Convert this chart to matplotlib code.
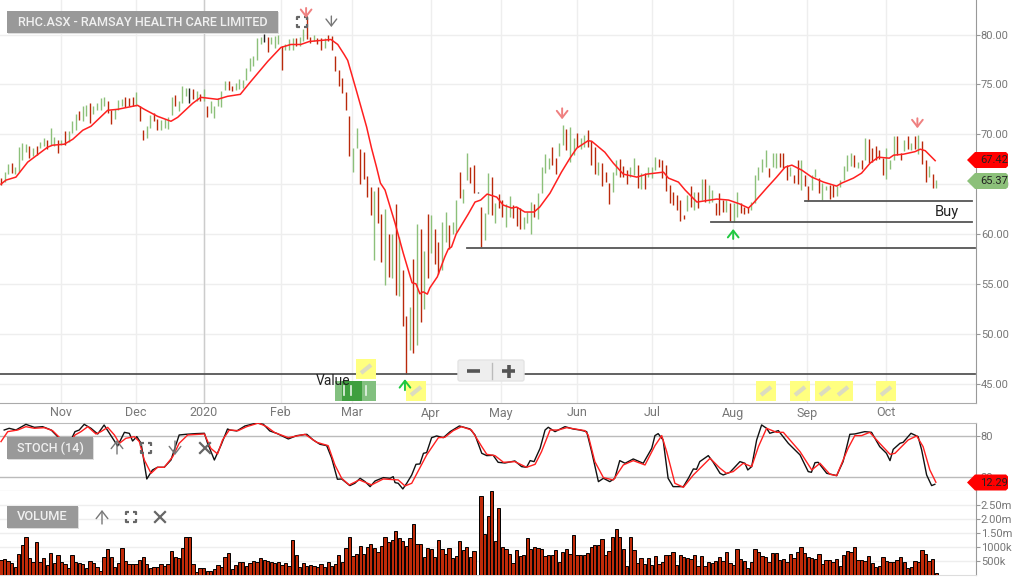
import matplotlib
matplotlib.use("Agg")
import matplotlib.pyplot as plt
from matplotlib.patches import Rectangle, Polygon, FancyBboxPatch

plt.rcParams['font.family'] = ['Roboto', 'DejaVu Sans']

# Daily bars, Oct 2019 - Oct 2020
highs = [65.6,66.2,67,67.1,66.7,68.7,69.1,69,68.8,68.6,
         68.8,69.2,69.6,69.4,70.6,69.7,69.4,69.4,70.3,70.3,
         71.3,72,72.3,72.8,72.9,73.1,72.8,73.1,73.6,73.7,
         73.3,72.4,72.5,73.4,73.5,73.7,73.6,73.7,74.2,72.8,
         70.4,70.8,71.9,72.1,71.5,71.4,71.5,71.7,73.7,73.9,
         73.3,74.8,74.6,74.6,74.5,74.3,74,74.5,72.8,73.3,
         72.8,73.6,74.3,75.3,75.3,74.8,75.1,75.5,75.4,76.6,
         77.6,77.8,79.6,79.8,80.1,79.8,79.8,79.9,80,78.8,
         79,79.5,79.6,79.6,79.7,80.6,81.8,79.8,80,79.6,
         79.6,79.6,80,79.9,77.8,76.4,75.6,74.2,71.8,68.6,
         70.6,68.5,68.2,65.8,64.7,64.3,64.7,62,62.5,60,
         60,63,59.7,56.4,51.8,52.7,57.5,61,60.5,58.3,
         62,61.9,60.5,59.2,61.2,62.2,60.9,61.2,63.4,66.2,
         64.5,68.1,66.7,66.9,64.2,62.7,62.1,66.1,65.7,63.1,
         64,63.4,63,63.8,62.9,62.7,62.6,61.7,62.2,63.2,
         63,64.1,66.7,68,67.6,68.7,67.6,69.1,70.9,70.5,
         70.7,69.6,70.1,69.6,69.9,70.4,69.3,68.7,67.2,67.1,
         66.2,65.1,66.2,67.4,67.5,66.8,66.4,66.7,67.6,66.9,
         66.1,66.1,66.7,66.7,67.7,67.5,67.4,66.9,64.9,64.2,
         63.9,63.4,61.9,63.9,64.8,64.2,64.2,65.5,65.5,64.9,
         64.4,63.1,64.1,63.4,63.4,63.1,63.1,64.2,63.1,62.7,
         62.7,63.2,65.9,66.7,67.5,68.4,66.6,68.1,68.1,68.1,
         68.1,66.9,66.7,65.9,67.4,67.4,65.9,64.8,65.9,66.5,
         65.6,65.1,64.8,64.9,64.9,64.8,65.4,66.8,67.9,68.1,
         67.9,67.2,67.4,69.6,69.5,68.6,68.8,68.4,67.6,68.6,
         67.4,69.8,69.8,68.1,69.4,69.8,69.1,69.8,69.9,69.3,
         67.4,66.8,66,65.4]
lows = [64.9,65.2,66,66.1,66,66.2,67.4,68.2,67.6,67.8,
        67.9,68.6,68.8,68.5,68.9,68.8,68.1,68.9,68.9,69.2,
        70.1,70.4,71.4,71.3,71.8,71.1,72,72.4,72.4,72.8,
        72.1,71,71.5,72.4,72.8,72.7,72.8,72.8,72.8,71.3,
        69.4,69.6,70.6,71.3,70.4,70.4,70.6,70.5,71.9,72.8,
        72.3,73.1,73.8,73.1,73.5,73.3,73.3,73.3,71.7,72.1,
        71.6,72.8,72.7,74.4,74.4,74.3,74.4,74.5,74.6,75.4,
        76.3,76.8,77.4,79,79.2,78.2,79,78.6,79,76.4,
        78.4,78.4,78.4,78.8,78.8,79.3,79.5,79.1,79.3,79,
        78.4,78.6,79.3,78.4,76.3,74.8,74.1,72.4,67.8,66.2,
        68.6,65,65.5,63.7,61.9,57.4,61.1,57.2,54.9,55.7,
        55.6,53.9,53.8,50.8,46,48.4,48.1,48.9,51.2,52.5,
        55.6,58.1,57,56,56.4,59.2,58.5,60,60.2,63.6,
        63.1,65.4,65.1,64.1,64.1,58.7,59.4,62,61.9,61.1,
        62.6,61.7,60.7,61.7,61.6,60.8,60.5,60.5,61.1,60,
        61.7,61.5,64.1,66.1,66.5,66.9,66,67.8,68.9,68.4,
        67.2,67.9,68.7,68.5,68.7,68.7,66.9,66,65.9,64.8,
        65.2,63,64.2,65.9,65.7,65.7,65,65.7,65.9,64.6,
        64.5,64.5,65.7,65.6,66.4,66.7,65.6,64.3,63.1,62.9,
        62.4,61.3,61.5,62.3,62.7,62.4,62.6,63.4,63.2,63.1,
        63.2,61.9,61.9,62.2,62.2,61.3,61.2,61.7,62.1,62,
        62.1,62.4,63.1,65.4,66.2,66.7,65.7,66.7,66.6,66.7,
        66.6,65.4,65.8,65.1,65,64.4,64.8,63.3,64.4,65.7,
        64.1,63.4,64.4,63.5,63.7,63.8,64.7,65.4,66.3,66.8,
        66.7,66.6,66.5,67.4,67.1,67.2,67.4,67.5,65.9,65.5,
        66.5,67.4,67.9,67.4,68.3,68.5,68.4,68.5,68,67,
        65.2,65.7,64.6,64.6]
bar_colors = ("rggrggggrg" "rggrggrgrg" "ggrggrgggg" "rrgggrrrgr" "rggrrggggr"
              "gggkrgrgrg" "ggggrrgggg" "ggggkrgggr" "gggrggrrgr" "rgrrrrrrrg"
              "grrrrgrrgr" "grgrrgrgrg" "rgrrggrggr" "ggrrkrggrg" "rrggrrrggg"
              "rggggrrggr" "ggrggrrrgr" "rrggrrrggr" "grgggrrrrr" "rrrgrgrgrg"
              "grrrgrggrr" "rgggggrggr" "rrgrrgrrgg" "rggrrggggg" "rgrgrrrrrg"
              "ggrrgrgrgr" "rgrg")

ma_x = [0,1.4,4.2,7.5,13.1,14.5,17.8,20.2,23,25.3,30,32.8,38.4,40.3,44,47.8,49.7,53.9,56.2,60.9,
        63.7,67.3,69.8,75,78.7,81.5,84.3,86.7,92.8,94.7,96.5,97.5,100,102.8,104.2,105.6,106.7,108,110.8,113.1,
        115.6,116.7,117.8,118.7,119.9,120.6,122.7,124.8,125.8,126.7,128,131.4,133.3,134.9,136.7,139.4,141.2,143.6,145,147.3,
        149.9,151.5,154.4,157.6,160,161.9,165.1,166.1,169.8,172.2,175,178.8,181.6,186.3,187.7,190.5,192.4,195.7,201.3,204.6,
        207.8,210.2,211.6,215.3,218.1,220.5,222.4,225.2,228,231.3,235,236.4,239.7,242,244.4,246.7,249.8,251,253.8,257,
        258.5,259.9,262.7]
ma_y = [65,65.4,65.7,67.2,68.7,68.9,69,69.5,70.4,70.8,72.4,72.5,72.9,72.5,71.8,71.3,71.7,73.1,73.7,73.5,
        73.8,74,75.1,77.3,78.7,79,79,79.3,79.5,79,78,77.4,74.3,70.75,68.6,66.7,65.1,64.4,61.1,58.1,
        55.1,55,54,54.2,53.97,54.6,55.7,57.7,58.5,58.7,60,62,63.2,63.4,64,63.7,62.9,62.6,62.7,62.2,
        62.2,62.7,64.1,66.2,67.6,68.6,69.35,69.3,68.2,67.1,66,65.7,66,66.2,65.6,65.2,64.4,63.2,63.5,63.4,
        63,62.6,63.1,64.6,65.7,66.7,66.9,66.4,65.7,65.2,64.8,65.1,65.6,66.1,67.1,67.7,67.6,67.9,68,68.25,
        68.5,68.35,67.35]

# support / resistance levels drawn on the chart: (price, first bar, last bar)
level_prices = [46, 58.6, 61.15, 63.3]
level_start = [-1, 131, 199.7, 226]
level_end = [274, 274, 273, 273]

volume_k = [540,560,510,420,300,740,1070,1340,620,480,
            1170,480,620,360,770,420,700,480,380,240,
            700,460,420,380,240,500,420,300,150,650,
            920,630,300,420,950,510,380,380,380,540,
            630,380,260,300,300,380,320,390,870,650,
            600,950,1370,1370,380,120,240,240,155,155,
            200,345,275,655,775,200,345,450,450,310,
            420,490,450,600,520,490,450,420,450,345,
            420,310,1240,700,275,420,310,345,310,275,
            380,275,450,310,380,700,450,950,1345,665,
            740,1025,740,990,1095,950,810,1025,1345,1165,
            1240,1560,1310,1225,1025,1310,1810,1095,1095,630,
            950,915,630,1240,915,740,950,600,665,1200,
            880,990,630,845,0,2810,1450,2095,2990,1200,
            2380,990,915,740,415,880,665,700,1310,915,
            990,950,915,665,700,700,880,450,810,915,
            740,1415,700,700,700,775,990,1060,1060,1275,
            700,845,1345,1630,1345,915,310,1345,880,415,
            595,380,595,345,665,380,450,700,700,810,
            345,700,630,595,560,700,310,665,310,450,
            415,490,630,490,810,415,345,915,560,490,
            240,450,915,810,665,630,450,775,775,525,
            560,450,740,595,810,990,775,655,595,570,
            740,395,535,535,450,570,310,715,855,835,
            990,525,525,500,680,415,275,320,630,490,
            475,475,525,630,450,240,275,490,450,880,
            740,490,560,85]

stoch_k_x = [0.9,2.3,4.2,7,9.4,11.7,14.1,16.4,17.3,19.2,20.8,22,23.4,25.3,27.2,29,30.5,32.8,34.7,36.1,
             37,38.2,39.4,41,42.6,44,45.9,47.8,50.1,52,54.8,57.2,58.1,60,61.9,63.7,64.4,66.3,68.6,71.9,
             73.8,75.6,77.5,80.8,83.1,86,87.8,89.7,91.6,93,94.6,95.8,98.1,99.5,101,102.4,103.8,105.2,107.5,109.4,
             110.3,110.8,111.7,113,114.1,115.5,116.7,117.8,118.8,119.7,121.1,122.5,124.4,126.3,128.9,131.9,133.3,135.2,136.6,138.4,
             139.8,141.7,144.5,146.4,147.8,148.8,149.9,151.6,153,153.9,155.8,158.6,160.9,162.8,164.7,166.1,168,169.4,171.2,172.6,
             174,175.5,177.8,180.6,183,183.9,184.8,186.2,187.6,189,191.9,193.3,194.7,195.6,196.5,198.9,200.3,202.2,203.1,205,
             207.8,209.2,210,211.1,212.5,213.9,215.3,216.2,218.6,221.4,224.7,227,227.9,228.9,229.8,232.2,235,236.8,238.7,240.1,
             242.9,244.8,247.1,249,250,250.9,252.8,253.7,255.9,257.9,258.9,260.3,261.7,262.6]
stoch_k_y = [89.3,91.8,89.3,97.6,93.2,94.2,89.3,77.1,69.8,69.8,86.9,89.3,97.6,91.8,83.5,96.6,84.4,65.9,85.9,84.4,
             73.2,79.6,69.8,17.6,30.8,34.7,34.7,45.4,82,83,84,84.5,69.8,45.4,67.4,90.8,89.3,87.9,95.2,99.5,
             97.6,87.9,84.5,76.2,81,83,74.7,68.4,66.4,47.9,17.2,17.6,7.9,11.3,18.6,13.7,6.4,14.7,19.6,18.6,
             21,12.3,11.3,3,11.3,23.5,39.1,39.6,55.2,56.2,78.1,80.6,78.1,86.9,95.2,90.8,82,55.2,51.8,52.3,
             42,41,44,35.7,34.7,44.5,43,62.5,89.3,93.3,86.9,94.2,90.8,89.3,86.9,57.6,13.7,18.6,13.7,18.6,
             44.5,40.6,46.9,40.6,62.5,81.1,84,74.7,18.6,6.4,6.4,18.6,32.3,31.8,43,51.8,42,25.9,23.5,27.4,
             43,40.6,30.8,35.7,74.7,96.7,91.8,84.5,88.4,69.8,52.8,28.4,27.4,41.5,42,25.9,22.5,43,83,83.5,
             86.9,85.9,65,55.2,44.5,61,69.8,71.3,84.5,79.6,60.1,23.5,7.9,9.8]
stoch_d_x = [0,1.9,4.7,7,9.4,12.2,14.5,16.4,17.3,19.2,20.8,22.5,24.4,26.7,28.1,30,31.9,33.3,35.1,37.5,
             38.9,40.3,42.2,44,45.9,48.3,50.1,52.5,57.2,59,60.9,62.3,64.2,66.7,69.1,72.4,74.7,77,80.8,85.5,
             88.8,92,93.9,95.8,97.9,100.8,104.2,107.5,111.7,113.6,115.5,119.7,123,124.8,127.2,129.5,132.3,135.2,136.6,138.9,
             141.3,144.5,147.8,150.2,152,154.4,156.7,159.1,164.2,165.1,167,169.4,172.2,175,177.8,181.1,183.9,185.8,187.2,189.5,
             191.9,194.7,199.4,202.2,204,205.9,208.7,211.1,213,215.3,218.1,220,224.7,228,230.3,233.1,235,238.2,240.1,242,
             244.3,247.1,250,251.4,255.1,257.5,259.3,261.2,262.9]
stoch_d_y = [72.3,86.9,89.3,94.2,91.8,92.7,88.4,78.6,69.8,69.8,82,86.9,94.2,83.5,86.9,93.2,82,69.8,77.1,79.6,
             72.3,45.4,25.9,34.7,34.7,50.3,69.8,82,83.5,62.5,54.2,74.7,89.3,88.4,94.2,99.5,94.2,85.4,78.1,83,
             71.3,66.4,38.1,18.6,8.9,16.2,8.9,17.6,16.2,7.4,11.3,52.8,78.1,78.6,88.4,94.2,89.3,65,53.7,51.8,
             42,43,34.7,39.1,57.6,89.3,89.3,92.8,88.4,82,43,19.6,16.2,38.1,44.5,38.1,66.4,81.1,57.6,11.3,
             5.4,23.5,47.9,33.3,25.9,28.4,40.6,35.7,65,91.8,85.9,85.9,57.6,30.8,40.6,24.5,22.5,62.5,81.1,81.1,
             85.9,69.8,53.7,55.2,74.7,80.6,65,30.8,12.8]

# axis labels
month_labels = ["Nov","Dec","2020","Feb","Mar","Apr","May","Jun","Jul","Aug","Sep","Oct"]
month_pos = [16.9,38,57.1,78.7,98.7,120.9,140.6,162,183,205.9,226.7,248.9]
price_ticks = [45,50,55,60,65,70,75,80]
stoch_ticks = [20,80]
volume_ticks = [500,1000,1500,2000,2500]
volume_tick_labels = ["500k","1000k","1.50m","2.00m","2.50m"]

GREEN = "#8cc07a"
RED = "#b9290b"
GREY = "#777777"
colors = {"g": GREEN, "r": RED, "k": "#222222"}
W, H = 1016, 582


def make_axes(top, bottom, ymin, ymax):
    ax = fig.add_axes([0, 1 - bottom / H, 975.5 / W, (bottom - top) / H])
    ax.set_xlim(-0.28, 274.04)
    ax.set_ylim(ymin, ymax)
    ax.set_xticks(month_pos)
    ax.set_xticklabels([])
    ax.tick_params(axis="x", length=0)
    ax.yaxis.tick_right()
    ax.tick_params(axis="y", length=3, color="#999999", labelcolor=GREY, labelsize=8, pad=0.8)
    for s in ["left", "top"]:
        ax.spines[s].set_visible(False)
    ax.spines["right"].set_color("#999999")
    ax.spines["bottom"].set_color("#aaaaaa")
    ax.set_axisbelow(True)
    return ax


fig = plt.figure(figsize=(W / 100, H / 100), dpi=100, facecolor="white")

# price panel
ax = make_axes(0, 403, 43.05, 83.46)
ax.set_yticks(price_ticks)
ax.set_yticklabels([f"{t:.2f}" for t in price_ticks])
ax.grid(True, color="#eeeeee", lw=1)
ax.axvline(month_pos[2], color="#cccccc", lw=1, zorder=1)
bar_x = list(range(len(highs)))
ax.vlines(bar_x, lows, highs, colors=[colors[c] for c in bar_colors], lw=1.0, zorder=2)
ax.plot(ma_x, ma_y, color="#ff2020", lw=1.1, zorder=3)
for p, a, b in zip(level_prices, level_start, level_end):
    ax.plot([a, b], [p, p], color="#555555", lw=1.3, zorder=4)

# stochastic panel
ax2 = make_axes(422.7, 491, 0, 100)
ax2.set_yticks(stoch_ticks)
ax2.grid(True, axis="y", color="#bbbbbb", lw=1)
ax2.spines["top"].set_visible(True)
ax2.spines["top"].set_color("#bbbbbb")
ax2.plot(stoch_k_x, stoch_k_y, color="#111111", lw=1.0, zorder=3)
ax2.plot(stoch_d_x, stoch_d_y, color="#ff2020", lw=1.0, zorder=4)

# volume panel
ax3 = make_axes(491, 575, 0, 3000)
ax3.set_yticks(volume_ticks)
ax3.set_yticklabels(volume_tick_labels)
ax3.grid(True, axis="y", color="#eeeeee", lw=1)
ax3.spines["bottom"].set_color("#dddddd")
ax3.bar(bar_x, volume_k, width=0.92, color="#c02a08", edgecolor="black", lw=0.7, zorder=3)

# everything below is page furniture placed in pixels
ov = fig.add_axes([0, 0, 1, 1], zorder=10)
ov.set_xlim(0, W)
ov.set_ylim(H, 0)
ov.axis("off")
ov.patch.set_alpha(0)

for lab, pos in zip(month_labels, month_pos):
    ov.text(1 + 3.556 * pos, 413, lab, ha="center", va="center", fontsize=9, color=GREY)


def label_box(x0, y0, x1, y1, text, size=9.5):
    ov.add_patch(Rectangle((x0 + 1, y0 + 1), x1 - x0, y1 - y0, color="#dddddd", lw=0))
    ov.add_patch(Rectangle((x0, y0), x1 - x0, y1 - y0, color="#999999", lw=0))
    ov.text((x0 + x1) / 2, (y0 + y1) / 2, text, ha="center", va="center", color="#f0f0f0",
            fontsize=size, fontweight="medium")


label_box(7, 11, 278, 33, "RHC.ASX - RAMSAY HEALTH CARE LIMITED", 9.05)
label_box(7, 437, 93, 459, "STOCH (14)", 9.0)
label_box(7, 506, 78, 528, "VOLUME", 9.3)


def brackets(cx, cy, r=5):
    for sx in (-1, 1):
        for sy in (-1, 1):
            ov.plot([cx + sx * r, cx + sx * r, cx + sx * (r - 3)],
                    [cy + sy * (r - 3), cy + sy * r, cy + sy * r],
                    color="#666666", lw=1.6, solid_capstyle="butt")


def cross(cx, cy, r=5):
    ov.plot([cx - r, cx + r], [cy - r, cy + r], color="#666666", lw=1.6)
    ov.plot([cx - r, cx + r], [cy + r, cy - r], color="#666666", lw=1.6)


def thin_arrow(cx, y_from, y_to):
    ov.annotate("", xy=(cx, y_to), xytext=(cx, y_from),
                arrowprops=dict(arrowstyle="->,head_length=0.45,head_width=0.35", color="#777777",
                                lw=1.0, mutation_scale=12, shrinkA=0, shrinkB=0))


brackets(302, 22)
thin_arrow(117, 454, 440)
brackets(146, 448)
thin_arrow(175, 441, 455)
cross(205, 448)
thin_arrow(102, 524, 510)
brackets(131, 517)
cross(160, 517)

# note markers
for x0, y0 in [(356, 359), (406, 381), (756, 381), (790, 381), (815, 381), (833, 381), (876, 381)]:
    ov.add_patch(Rectangle((x0, y0), 20, 20, color="#ffff80", lw=0))
    ov.plot([x0 + 5, x0 + 15], [y0 + 14, y0 + 6], color="#dcdcc0", lw=3, solid_capstyle="butt")

# signal arrows, tail then tip, in price panel values
sig_arrows = [((85.8, 82.66), (85.8, 81.66), "#ef8080"), ((92.9, 81.85), (92.9, 80.75), "#777777"),
              ((157.8, 72.6), (157.8, 71.5), "#ef8080"), ((257.7, 71.6), (257.7, 70.6), "#ef8080"),
              ((113.6, 44.34), (113.6, 45.44), "#20c840"), ((205.9, 59.5), (205.9, 60.5), "#20c840")]
for tail, tip, col in sig_arrows:
    lw = 1.0 if col == "#777777" else 1.4
    ov.annotate("", xy=tip, xytext=tail, xycoords=ax.transData, textcoords=ax.transData,
                arrowprops=dict(arrowstyle="->,head_length=0.45,head_width=0.35", color=col, lw=lw,
                                mutation_scale=11, shrinkA=0, shrinkB=0))

# trade markers
ov.add_patch(Rectangle((335, 381), 41, 20, color="#82c07f", lw=0))
ov.add_patch(Rectangle((342, 381), 20, 20, color="#3f9f3f", lw=0))
for x in [344, 351, 366]:
    ov.plot([x, x], [386, 395], color="#e8f4e8", lw=1.2)
ov.text(333, 381, "Value", ha="center", va="center", fontsize=10, color="#222222")
ov.text(947, 212, "Buy", ha="center", va="center", fontsize=10.5, color="#222222")

# zoom control
ov.add_patch(FancyBboxPatch((458, 360), 66, 21, boxstyle="round,pad=0,rounding_size=2",
                            fc="#eeeeee", ec="#e4e4e4", lw=1))
ov.plot([467, 480], [371, 371], color="#555555", lw=2.6, solid_capstyle="butt")
ov.plot([502, 515], [371, 371], color="#555555", lw=2.6, solid_capstyle="butt")
ov.plot([508.5, 508.5], [364.5, 377.5], color="#555555", lw=2.6, solid_capstyle="butt")
ov.plot([492, 492], [363, 379], color="#bbbbbb", lw=1)


# last value tags
def tag(y, text, col, txt_col="#222222"):
    pts = [(967, y), (975, y - 8), (1006, y - 8), (1008, y - 6), (1008, y + 6), (1006, y + 8), (975, y + 8)]
    ov.add_patch(Polygon(pts, closed=True, color=col, lw=0))
    ov.text(994, y, text, ha="center", va="center", fontsize=8, color=txt_col)


tag(160, "67.42", "#ff0000")
tag(181, "65.37", GREEN)
tag(482.5, "12.29", "#ff0000")

fig.savefig("out.png", dpi=100)
